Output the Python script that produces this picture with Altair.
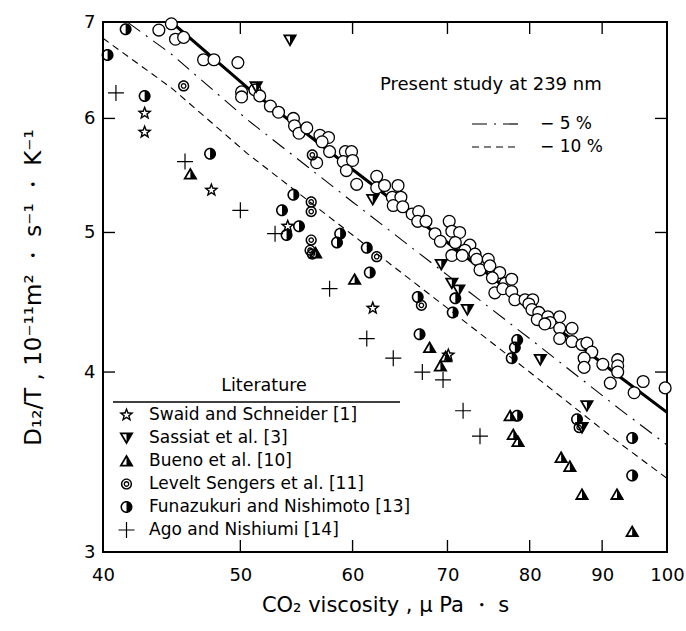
import math
import altair as alt
import pandas as pd

# ---------------- data ----------------
present_x = [43.8, 44.7, 45.0, 45.6, 47.1, 47.9, 49.8, 50.1, 50.1, 51.2,
             51.6, 52.5, 53.2, 54.5, 54.6, 55.0, 55.7, 56.9, 57.7, 57.1,
             57.8, 59.3, 59.9, 59.1, 60.0, 59.4, 60.4, 56.6, 62.4, 62.4,
             63.2, 64.6, 64.0, 64.9, 64.1, 65.1, 66.1, 66.8, 66.7, 67.6,
             70.2, 68.6, 70.5, 71.4, 69.2, 70.9, 72.6, 72.0, 73.2, 70.5,
             71.7, 73.4, 74.8, 73.8, 75.0, 76.2, 75.3, 76.9, 77.7, 75.6,
             76.6, 77.7, 78.1, 79.4, 80.4, 79.9, 80.3, 81.2, 81.0, 82.4,
             84.0, 82.7, 82.0, 84.0, 85.7, 84.0, 85.7, 87.1, 87.8, 88.5,
             87.4, 87.4, 90.1, 92.3, 92.3, 92.3, 91.2, 94.8, 96.2, 99.7]
present_y = [6.91, 6.98, 6.81, 6.83, 6.59, 6.59, 6.56, 6.26, 6.21, 6.28,
             6.22, 6.12, 6.06, 6.00, 5.93, 5.86, 5.91, 5.84, 5.82, 5.78,
             5.69, 5.69, 5.69, 5.60, 5.61, 5.52, 5.40, 5.59, 5.47, 5.37,
             5.39, 5.39, 5.29, 5.29, 5.22, 5.21, 5.15, 5.17, 5.09, 5.09,
             5.09, 4.99, 5.01, 5.00, 4.93, 4.92, 4.90, 4.86, 4.83, 4.82,
             4.82, 4.79, 4.79, 4.71, 4.74, 4.69, 4.65, 4.61, 4.64, 4.54,
             4.57, 4.55, 4.49, 4.49, 4.49, 4.46, 4.42, 4.40, 4.35, 4.37,
             4.37, 4.33, 4.32, 4.29, 4.29, 4.22, 4.20, 4.18, 4.19, 4.13,
             4.09, 4.03, 4.05, 4.08, 4.04, 4.00, 3.93, 3.87, 3.94, 3.90]

fit_x = [40.0, 44.7, 50.6, 60.0, 70.0, 80.0, 92.6, 100.0]
fit_y = [7.58, 7.00, 6.30, 5.53, 4.92, 4.44, 3.97, 3.75]
minus5_y = [7.20, 6.65, 5.985, 5.25, 4.67, 4.22, 3.77, 3.56]
minus10_y = [6.82, 6.30, 5.67, 4.98, 4.43, 4.00, 3.57, 3.375]

swaid_x = [42.8, 42.8, 47.7, 54.0, 62.0, 70.1]
swaid_y = [6.05, 5.87, 5.35, 5.05, 4.43, 4.11]
sassiat_x = [54.2, 51.3, 62.0, 69.3, 70.5, 71.3, 72.3, 81.4, 87.8, 87.1]
sassiat_y = [6.80, 6.31, 5.27, 4.75, 4.61, 4.56, 4.42, 4.08, 3.79, 3.66]
bueno_x = [46.1, 56.5, 60.2, 68.0, 69.2, 69.8, 77.5, 77.9, 78.5, 84.2, 85.4, 87.1, 92.2, 94.5]
bueno_y = [5.49, 4.84, 4.64, 4.16, 4.04, 4.10, 3.73, 3.62, 3.58, 3.49, 3.44, 3.29, 3.29, 3.10]
levelt_x = [45.6, 56.2, 56.1, 56.1, 56.1, 56.0, 56.2, 62.4, 67.1, 86.7]
levelt_y = [6.32, 5.66, 5.25, 5.17, 4.94, 4.86, 4.83, 4.81, 4.45, 3.66]
funa_x = [40.3, 41.5, 42.8, 47.6, 54.5, 53.5, 55.0, 53.9, 58.8, 58.5, 61.4, 61.7,
          66.7, 66.9, 70.6, 70.9, 78.4, 78.1, 77.7, 78.4, 86.4, 94.5, 94.5]
funa_y = [6.64, 6.92, 6.22, 5.67, 5.31, 5.18, 5.05, 4.98, 4.99, 4.92, 4.88, 4.69,
          4.51, 4.25, 4.40, 4.50, 4.21, 4.16, 4.09, 3.73, 3.71, 3.60, 3.39]
ago_x = [40.85, 45.7, 50.0, 52.9, 57.8, 61.4, 64.1, 67.2, 69.5, 71.8, 73.8]
ago_y = [6.25, 5.60, 5.18, 4.99, 4.57, 4.22, 4.09, 4.00, 3.95, 3.76, 3.61]

lit_names = ["Swaid and Schneider [1]", "Sassiat et al. [3]", "Bueno et al. [10]",
             "Levelt Sengers et al. [11]", "Funazukuri and Nishimoto [13]",
             "Ago and Nishiumi [14]"]
line_names = ["− 5 %", "− 10 %"]

x_domain = [40, 100]
y_domain = [3, 7]
x_label_values = [40, 50, 60, 70, 80, 90, 100]
y_label_values = [3, 4, 5, 6, 7]
x_tick_values = [50, 60, 70, 80, 90]
y_tick_values = [4, 5, 6]

# ---------------- symbol shapes (unit square -1..1, 1 unit = 8 px) ----------------
def circle_path(r, cw=True):
    s = 1 if cw else 0
    return f"M0,{-r}A{r},{r} 0 1,{s} 0,{r}A{r},{r} 0 1,{s} 0,{-r}Z"

def star_path(R, r, cw=True):
    pts = []
    for k in range(10):
        ang = -math.pi / 2 + k * math.pi / 5
        rad = R if k % 2 == 0 else r
        pts.append((rad * math.cos(ang), rad * math.sin(ang)))
    if not cw:
        pts = pts[::-1]
    return "M" + "L".join(f"{px:.3f},{py:.3f}" for px, py in pts) + "Z"

STAR = star_path(0.98, 0.42) + star_path(0.5, 0.2, cw=False)
TRI_DOWN = "M-0.9,-0.7L0.9,-0.7L0,0.85Z M0,-0.48L-0.518,-0.48L0,0.413Z"
TRI_UP = "M-0.9,0.7L0.9,0.7L0,-0.85Z M0,0.48L-0.518,0.48L0,-0.413Z"
DOUBLE = circle_path(0.7) + circle_path(0.52, False) + circle_path(0.36) + circle_path(0.2, False)
HALF = circle_path(0.75) + "M0,-0.56A0.56,0.56 0 0,0 0,0.56Z"
PLUS = "M-1,-0.075L1,-0.075L1,0.075L-1,0.075Z M-0.075,-1L0.075,-1L0.075,1L-0.075,1Z"
lit_shapes = [STAR, TRI_DOWN, TRI_UP, DOUBLE, HALF, PLUS]

# inward frame ticks (12 px long, drawn from the frame edge inward)
tick_names = ["tick-bottom", "tick-top", "tick-left", "tick-right"]
tick_shapes = [
    "M-0.085,-1.5L0.085,-1.5L0.085,0L-0.085,0Z",   # bottom edge, pointing up
    "M-0.085,0L0.085,0L0.085,1.5L-0.085,1.5Z",     # top edge, pointing down
    "M0,-0.085L1.5,-0.085L1.5,0.085L0,0.085Z",     # left edge, pointing right
    "M-1.5,-0.085L0,-0.085L0,0.085L-1.5,0.085Z",   # right edge, pointing left
]

# ---------------- tables ----------------
rows = []
for name, xs_, ys_ in zip(lit_names,
                          [swaid_x, sassiat_x, bueno_x, levelt_x, funa_x, ago_x],
                          [swaid_y, sassiat_y, bueno_y, levelt_y, funa_y, ago_y]):
    for a, b in zip(xs_, ys_):
        rows.append({"x": a, "y": b, "source": name})
for v in x_tick_values:
    rows.append({"x": v, "y": y_domain[0], "source": tick_names[0]})
    rows.append({"x": v, "y": y_domain[1], "source": tick_names[1]})
for v in y_tick_values:
    rows.append({"x": x_domain[0], "y": v, "source": tick_names[2]})
    rows.append({"x": x_domain[1], "y": v, "source": tick_names[3]})
lit_df = pd.DataFrame(rows)

present_df = pd.DataFrame({"x": present_x, "y": present_y})
fit_df = pd.DataFrame({"x": fit_x, "y": fit_y})
dash_df = pd.concat([
    pd.DataFrame({"x": fit_x, "y": minus5_y, "series": line_names[0]}),
    pd.DataFrame({"x": fit_x, "y": minus10_y, "series": line_names[1]}),
])

W, H = 564, 530
FONT = "DejaVu Sans"

xscale = alt.Scale(type="log", domain=x_domain, nice=False)
yscale = alt.Scale(type="log", domain=y_domain, nice=False)

common = dict(domain=False, grid=False, ticks=False, tickSize=0,
              labelFlush=False, labelOverlap=False,
              labelColor="black", titleColor="black", titleFontWeight="normal")
bottom_axis = alt.Axis(orient="bottom", title="CO₂ viscosity ,  μ Pa ・ s",
                       values=x_label_values, format="d", labelFontSize=18,
                       labelPadding=14, titlePadding=10, titleFontSize=21, **common)
left_axis = alt.Axis(orient="left", title="D₁₂/T , 10⁻¹¹m² ・ s⁻¹ ・ K⁻¹",
                     values=y_label_values, format="d", labelFontSize=18,
                     labelPadding=8, titlePadding=38, titleFontSize=23, **common)

def X(axis=None):
    return alt.X("x:Q", scale=xscale, axis=axis)

def Y(axis=None):
    return alt.Y("y:Q", scale=yscale, axis=axis)

dash_lines = alt.Chart(dash_df).mark_line(color="black", strokeWidth=1.1, clip=True).encode(
    x=X(), y=Y(),
    strokeDash=alt.StrokeDash(
        "series:N",
        scale=alt.Scale(domain=line_names, range=[[15, 7, 2, 7], [7, 5]]),
        sort=line_names,
        legend=alt.Legend(
            title="Present study at 239 nm", orient="none", legendX=277, legendY=54,
            titleAnchor="start", titleFontSize=18, titleFontWeight="normal",
            titleColor="black", titlePadding=21, titleLimit=400,
            labelFontSize=17, labelColor="black",
            symbolType="M-2.875,0L2.875,0", symbolSize=256, symbolOffset=106,
            labelOffset=36, symbolStrokeWidth=1.2, symbolStrokeColor="black",
            symbolFillColor="transparent", rowPadding=6)),
)

fit_line = alt.Chart(fit_df).mark_line(color="black", strokeWidth=3, clip=True).encode(
    x=X(), y=Y())

present_pts = alt.Chart(present_df).mark_point(
    shape="circle", filled=True, fill="white", stroke="black", strokeWidth=1.3,
    size=140, opacity=1).encode(x=X(bottom_axis), y=Y(left_axis))

lit_pts = alt.Chart(lit_df).mark_point(
    filled=True, color="black", strokeWidth=0, size=256, opacity=1).encode(
    x=X(), y=Y(),
    shape=alt.Shape(
        "source:N",
        scale=alt.Scale(domain=lit_names + tick_names, range=lit_shapes + tick_shapes),
        sort=lit_names + tick_names,
        legend=alt.Legend(
            title="Literature", values=lit_names, orient="none", legendX=15, legendY=355,
            titleAnchor="middle", titleFontSize=17.5, titleFontWeight="normal",
            titleColor="black", titlePadding=12, labelFontSize=17, labelColor="black",
            labelOffset=14, rowPadding=5, symbolSize=256, symbolFillColor="black",
            symbolStrokeWidth=0, labelLimit=400)),
)

underline = alt.Chart(pd.DataFrame({"a": [0]})).mark_rule(color="black", strokeWidth=1.5).encode(
    x=alt.value(10), x2=alt.value(297), y=alt.value(380))

chart = alt.layer(
    dash_lines, fit_line, present_pts, lit_pts, underline,
).resolve_axis(x="independent", y="independent").properties(
    width=W, height=H,
    padding={"left": 103, "top": 22, "right": 19, "bottom": 79},
    autosize=alt.AutoSizeParams(type="none"),
).configure(font=FONT).configure_view(stroke="black", strokeWidth=2)

chart.save("out.html", embed_options={"renderer": "svg", "actions": False})
